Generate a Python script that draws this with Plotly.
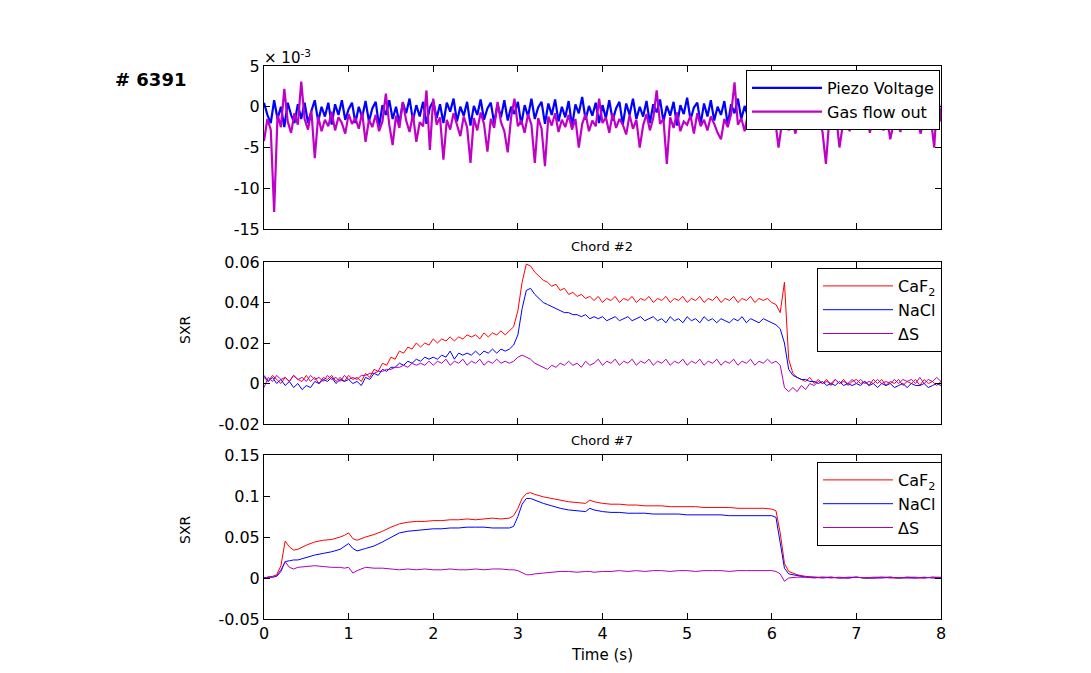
import numpy as np
import plotly.graph_objects as go

# ---------------- Top panel (x 10^-3), sampled every 0.04 s ----------------
piezo_voltage = [
    0.5, -1, -2, 0.8, -1.5, 0, -2.5, 0.5, -1, -2, 0.3, -1.5, 0.5, -2, -0.5, 0.8, -1.8, 0, -1.2, 0.5,
    -2.2, 0.3, -1, 0.8, -1.6, -0.3, 0.5, -2, 0, -1.3, 0.7, -1.8, -0.2, 0.6, -2.4, 0.2, -1, 0.8, -1.5, 0,
    -2, 0.5, -0.8, 1, -1.7, 0.2, -1.2, 0.6, -2.1, -0.1, 0.7, -1.4, 0.3, -2, 0.5, -0.6, 1, -1.8, 0, -1.1,
    0.6, -2.3, 0.1, -1, 0.9, -1.6, -0.2, 0.5, -2, 0.3, -1.3, 0.8, -1.7, 0, -0.9, 0.6, -2.2, 0.2, -1.2, 1,
    -1.5, -0.1, 0.6, -2.1, 0.4, -1, 0.9, -1.8, 0, -1.3, 0.7, -2.4, 0.3, -0.8, 1.2, -1.6, 0.1, -1.1, 0.5, -2,
    0.2, -1.4, 0.8, -1.7, -0.2, 0.6, -2.2, 0.4, -1, 1, -1.5, 0, -1.2, 0.7, -2, 0.3, -0.7, 0.9, -1.8, 0.1,
    -1.1, 0.6, -2.3, 0.2, -0.9, 1.1, -1.6, -0.1, 0.5, -2.1, 0.4, -1.2, 0.8, -1.7, 0, -1, 0.7, -2.2, 0.3, -0.8,
    1, -1.5, 0.1, -1.3, 0.6, -2, 0.4, -0.9, 0.9, -1.8, 0, -1.1, 0.7, -2.4, 0.2, -1, 1.2, -1.6, -0.2, 0.5,
    -2, 0.3, -1.2, 0.8, -1.7, 0.1, -0.8, 0.6, -2.2, 0.4, -1, 1, -1.5, 0, -1.3, 0.7, -2.1, 0.2, -0.9, 0.9,
    -1.8, 0.1, -1.1, 0.6, -2.3, 0.3, -1, 0.8, -1.6, 0, -1.2, 0.7, -2, 0.4, -0.7, 1, -1.7, 0.2, -1.4, 0.5,
    -1]
gas_flow_out = [
    -4.2, -1.5, -2.8, -12.9, -1, -2.5, 2.2, -1.8, -3.2, -0.8, -2.2, 3.1, -1.5, -2.8, -0.5, -6.3, -1.2, -3, -1.6, -2.4,
    -0.6, -2.9, -1.3, -2, -3.3, -0.9, -2.1, -1.4, -2.7, -0.7, -4.3, -1.6, -2.5, -1, -3, -1.8, 1.6, -2.2, -4.7, -1.1,
    -2.6, 0.6, -1.7, -3.1, -0.9, -4.3, -1.9, -2.4, 2, -5.3, 1, -2.2, -1.3, -6.5, -1.6, -2.8, -0.8, -2.3, -3.6, -1.2,
    -2.5, -6.9, -1.4, -2.9, -0.7, -2.1, -5.5, -1.5, -2.6, 0.6, -1.9, -3, -5.6, -1.3, 1, -2.4, -1.7, -3.2, -0.9, -2.2,
    -6.9, -1.4, -2.7, -7.3, -1.2, -2.3, -0.8, -3.1, -1.6, -2.5, -1, -2.8, -1.5, -5, -2.1, -0.9, -3, -1.7, -2.4, 1,
    -2, -1.3, -3.2, -0.8, -2.6, -1.5, -2.2, -3.4, -1, -2.7, -1.6, -5, -2.3, -0.9, -2.9, -1.4, 2, -2.1, -1.5, -7,
    -1.3, -2.6, -0.7, -3, -1.8, -2.2, -1.1, -3.3, -0.8, -2.4, -1.6, -2.9, -1.2, -2.1, -3.2, -4, -1.5, -2.5, -0.9, 3,
    -2.2, -1.4, -3, -0.8, -2.6, -1.7, -2.3, 4.5, -2.8, -1.1, -2.4, -1.6, -5, -2, -0.9, -2.9, -1.5, -3.3, -1, -2.2,
    -1.7, -2.8, -0.8, -2.5, -1.3, -3.1, -7, -1.6, -2.4, -1, -5, -2.2, -1.4, -3, -0.7, -2.6, -1.8, -2.2, -1.2, -3.2,
    -0.9, -2.5, -1.5, -2.9, -1.1, -4, -2.1, -1.6, -3.1, -0.8, -2.4, -1.3, -2.8, -1.7, -3.3, -1, -2.2, -1.5, -5, 2,
    -1.8]

# ---------------- Chord #2, sampled every 0.05 s ----------------
caf2_chord2 = [
    .003, .001, .004, .002, .000, .003, .001, .004, .002, .001,
    .004, .001, .003, .000, .003, .002, .004, .001, .003, .001,
    .004, .002, .003, .001, .005, .003, .007, .006, .010, .009,
    .013, .012, .016, .015, .018, .017, .020, .018, .020, .019,
    .022, .020, .022, .021, .023, .021, .023, .022, .024, .023,
    .024, .022, .025, .023, .025, .024, .026, .024, .026, .028,
    .036, .050, .059, .058, .055, .053, .051, .050, .048, .049,
    .046, .047, .044, .045, .043, .044, .042, .043, .041, .043,
    .040, .042, .041, .043, .040, .042, .041, .043, .040, .042,
    .041, .043, .040, .042, .041, .043, .040, .042, .041, .043,
    .040, .042, .041, .043, .040, .042, .041, .043, .040, .042,
    .041, .043, .040, .042, .041, .043, .040, .042, .041, .042,
    .040, .039, .035, .050, .012, .005, .003, .002, .001, .003,
    .000, .002, .000, .002, -.001, .002, .000, .002, -.001, .001,
    .002, .000, .001, -.001, .002, .000, .002, -.001, .001, .000,
    .002, -.001, .001, .000, .002, -.001, .002, .000, .001, -.001,
    .001]
nacl_chord2 = [
    .004, .001, .003, .000, .002, -.001, .001, -.002, .000, -.003,
    -.001, -.002, .001, .000, .002, .001, .003, .000, .002, .001,
    .002, .000, .001, -.001, .003, .002, .005, .004, .007, .006,
    .008, .008, .010, .009, .011, .010, .012, .011, .013, .012,
    .013, .012, .014, .013, .016, .012, .015, .014, .015, .014,
    .016, .014, .016, .015, .017, .015, .017, .016, .017, .019,
    .024, .037, .046, .047, .044, .042, .040, .039, .038, .037,
    .036, .035, .035, .034, .034, .033, .034, .032, .033, .032,
    .033, .031, .032, .033, .031, .032, .033, .031, .032, .033,
    .031, .032, .033, .031, .032, .030, .033, .031, .032, .030,
    .033, .031, .032, .030, .033, .031, .032, .030, .032, .031,
    .030, .032, .031, .033, .030, .032, .031, .030, .032, .031,
    .030, .029, .027, .020, .007, .004, .003, .002, .002, .001,
    .001, .000, .001, -.001, .000, -.001, .001, -.001, .000, -.001,
    .000, -.001, .001, -.001, .000, -.002, .000, -.001, .000, -.002,
    -.001, .000, -.002, .000, -.001, -.001, .000, -.002, -.001, .000,
    -.001]
ds_chord2 = [
    -.002, .003, .001, .004, .002, .003, .001, .004, .002, .003,
    .001, .004, .002, .003, .001, .004, .002, .003, .001, .004,
    .002, .003, .002, .004, .004, .005, .005, .006, .006, .007,
    .007, .008, .008, .009, .008, .010, .009, .010, .009, .011,
    .009, .011, .010, .012, .009, .011, .010, .012, .009, .011,
    .010, .012, .009, .011, .010, .012, .010, .011, .010, .011,
    .013, .014, .013, .012, .010, .009, .008, .007, .009, .008,
    .010, .009, .011, .009, .010, .008, .011, .009, .010, .012,
    .009, .011, .010, .012, .009, .011, .010, .012, .009, .011,
    .010, .012, .009, .011, .010, .012, .009, .011, .010, .012,
    .009, .011, .010, .012, .009, .011, .010, .012, .009, .011,
    .010, .012, .009, .011, .010, .012, .009, .011, .010, .012,
    .010, .011, .009, -.002, -.004, -.002, -.004, -.001, -.003, .000,
    -.001, .001, .000, .001, .000, .002, .000, .001, .000, .002,
    .000, .002, .000, .001, .000, .002, .000, .001, .000, .002,
    .000, .002, .001, .002, .000, .003, .000, .002, .001, .003,
    .001]

# ---------------- Chord #7 ----------------
t_chord7 = [0.0, 0.05, 0.1, 0.15, 0.2, 0.25, 0.3, 0.35, 0.4,
            0.5, 0.6, 0.7, 0.8, 0.9,
            0.95, 1.0, 1.05, 1.1,
            1.2, 1.3, 1.4, 1.5, 1.6, 1.7, 1.8, 1.9, 2.0, 2.1, 2.2, 2.3, 2.4, 2.5, 2.6, 2.7, 2.8, 2.9,
            2.95, 3.0, 3.05, 3.1, 3.15, 3.2,
            3.3, 3.4, 3.5, 3.6, 3.7, 3.8,
            3.85, 3.9,
            4.0, 4.1, 4.2, 4.3, 4.4, 4.5, 4.6, 4.7, 4.8, 4.9, 5.0, 5.1, 5.2, 5.3, 5.4, 5.5, 5.6, 5.7, 5.8, 5.9, 6.0,
            6.05, 6.1, 6.15, 6.2,
            6.3, 6.4, 6.5, 6.6, 6.7, 6.8, 6.9, 7.0, 7.1, 7.2, 7.3, 7.4, 7.5, 7.6, 7.7, 7.8, 7.9, 8.0]
caf2_chord7 = [0.000, 0.001, 0.002, 0.004, 0.015, 0.045, 0.038, 0.034, 0.035,
               0.040, 0.044, 0.046, 0.047, 0.050,
               0.052, 0.055, 0.048, 0.046,
               0.050, 0.053, 0.057, 0.062, 0.066, 0.068, 0.069, 0.069, 0.070, 0.070, 0.071, 0.071, 0.072, 0.071, 0.072, 0.073, 0.072, 0.073,
               0.076, 0.085, 0.097, 0.103, 0.104, 0.102,
               0.099, 0.097, 0.095, 0.093, 0.092, 0.091,
               0.095, 0.093,
               0.091, 0.090, 0.090, 0.089, 0.089, 0.088, 0.088, 0.088, 0.087, 0.087, 0.087, 0.087, 0.086, 0.086, 0.086, 0.086, 0.085, 0.085, 0.085, 0.085, 0.084,
               0.082, 0.055, 0.018, 0.008,
               0.004, 0.002, 0.001, 0.001, 0.000, 0.001, 0.000, 0.001, 0.000, 0.000, 0.001, 0.000, 0.000, 0.001, 0.000, 0.000, 0.001, 0.000]
nacl_chord7 = [0.000, 0.001, 0.001, 0.002, 0.008, 0.020, 0.021, 0.022, 0.022,
               0.025, 0.028, 0.030, 0.032, 0.035,
               0.038, 0.042, 0.036, 0.033,
               0.036, 0.039, 0.044, 0.050, 0.055, 0.057, 0.058, 0.059, 0.060, 0.060, 0.061, 0.061, 0.062, 0.062, 0.062, 0.061, 0.061, 0.061,
               0.063, 0.075, 0.090, 0.097, 0.097, 0.095,
               0.091, 0.088, 0.085, 0.083, 0.082, 0.081,
               0.085, 0.083,
               0.081, 0.080, 0.080, 0.079, 0.079, 0.079, 0.078, 0.078, 0.078, 0.078, 0.077, 0.077, 0.077, 0.077, 0.077, 0.076, 0.076, 0.076, 0.076, 0.076, 0.076,
               0.074, 0.045, 0.012, 0.005,
               0.003, 0.001, 0.001, 0.000, 0.001, 0.000, 0.000, 0.001, 0.000, 0.000, 0.000, 0.001, 0.000, 0.000, 0.000, 0.001, 0.000, 0.000]
ds_chord7 = [0.000, 0.001, 0.001, 0.003, 0.010, 0.020, 0.013, 0.011, 0.013,
             0.014, 0.015, 0.014, 0.013, 0.013,
             0.012, 0.013, 0.006, 0.009,
             0.013, 0.012, 0.012, 0.011, 0.010, 0.011, 0.010, 0.011, 0.010, 0.010, 0.011, 0.010, 0.010, 0.011, 0.010, 0.011, 0.011, 0.010,
             0.010, 0.009, 0.006, 0.004, 0.004, 0.005,
             0.006, 0.007, 0.008, 0.008, 0.007, 0.008,
             0.008, 0.007,
             0.008, 0.008, 0.009, 0.008, 0.009, 0.008, 0.009, 0.009, 0.008, 0.009, 0.009, 0.008, 0.009, 0.009, 0.009, 0.008, 0.009, 0.009, 0.009, 0.009, 0.009,
             0.008, 0.005, -0.004, 0.000,
             0.001, 0.001, 0.000, 0.001, 0.001, 0.000, 0.001, 0.001, 0.000, 0.001, 0.001, 0.001, 0.000, 0.001, 0.001, 0.000, 0.001, 0.001]

x_ticks = [0, 1, 2, 3, 4, 5, 6, 7, 8]
top_yticks = [-15, -10, -5, 0, 5]
top_ytext = ["-15", "-10", "-5", "0", "5"]
chord2_yticks = [-0.02, 0, 0.02, 0.04, 0.06]
chord2_ytext = ["-0.02", "0", "0.02", "0.04", "0.06"]
chord7_yticks = [-0.05, 0, 0.05, 0.1, 0.15]
chord7_ytext = ["-0.05", "0", "0.05", "0.1", "0.15"]

W, H = 1091, 673
OFF = 8  # page body margin
def px(x): return (x - OFF) / W
def py(y): return 1 - (y - OFF) / H

BLUE = "#0000FF"
MAG = "#C000C8"
RED = "#FF0000"
PURP = "#B000B8"
FONT = "DejaVu Sans, Liberation Sans, Arial, sans-serif"

fig = go.Figure()

fig.add_trace(go.Scatter(x=np.linspace(0, 8, len(piezo_voltage)), y=piezo_voltage, mode="lines",
                         name="Piezo Voltage", line=dict(color=BLUE, width=2.2),
                         xaxis="x3", yaxis="y3", legend="legend"))
fig.add_trace(go.Scatter(x=np.linspace(0, 8, len(gas_flow_out)), y=gas_flow_out, mode="lines",
                         name="Gas flow out", line=dict(color=MAG, width=2.2),
                         xaxis="x3", yaxis="y3", legend="legend"))

fig.add_trace(go.Scatter(x=np.linspace(0, 8, len(caf2_chord2)), y=caf2_chord2, mode="lines", name="CaF<sub>2</sub>",
                         line=dict(color=RED, width=1), xaxis="x2", yaxis="y2", legend="legend2"))
fig.add_trace(go.Scatter(x=np.linspace(0, 8, len(nacl_chord2)), y=nacl_chord2, mode="lines", name="NaCl",
                         line=dict(color=BLUE, width=1), xaxis="x2", yaxis="y2", legend="legend2"))
fig.add_trace(go.Scatter(x=np.linspace(0, 8, len(ds_chord2)), y=ds_chord2, mode="lines", name="ΔS",
                         line=dict(color=PURP, width=1), xaxis="x2", yaxis="y2", legend="legend2"))

fig.add_trace(go.Scatter(x=t_chord7, y=caf2_chord7, mode="lines", name="CaF<sub>2</sub>",
                         line=dict(color=RED, width=1), xaxis="x", yaxis="y", legend="legend3"))
fig.add_trace(go.Scatter(x=t_chord7, y=nacl_chord7, mode="lines", name="NaCl",
                         line=dict(color=BLUE, width=1), xaxis="x", yaxis="y", legend="legend3"))
fig.add_trace(go.Scatter(x=t_chord7, y=ds_chord7, mode="lines", name="ΔS",
                         line=dict(color=PURP, width=1), xaxis="x", yaxis="y", legend="legend3"))

xdom = [px(264), px(941)]
axis_common = dict(showline=True, linecolor="black", linewidth=1, mirror="ticks", ticks="inside",
                   ticklen=6, tickcolor="black", showgrid=False, zeroline=False, automargin=False,
                   tickfont=dict(family=FONT, size=16, color="black"))
leg_common = dict(xanchor="right", yanchor="top", bgcolor="white", bordercolor="black", borderwidth=1,
                  font=dict(family=FONT, size=16, color="black"), tracegroupgap=0, itemwidth=70)

fig.update_layout(
    template="none",
    autosize=False,
    width=W, height=H, paper_bgcolor="white", plot_bgcolor="white",
    margin=dict(l=0, r=0, t=0, b=0, pad=0),
    xaxis=dict(domain=xdom, range=[0, 8], tickvals=x_ticks, anchor="y", **axis_common),
    yaxis=dict(domain=[py(619), py(455)], range=[-0.05, 0.15], tickvals=chord7_yticks,
               ticktext=chord7_ytext, anchor="x", **axis_common),
    xaxis2=dict(domain=xdom, range=[0, 8], tickvals=x_ticks, showticklabels=False, anchor="y2", **axis_common),
    yaxis2=dict(domain=[py(424), py(262)], range=[-0.02, 0.06], tickvals=chord2_yticks,
                ticktext=chord2_ytext, anchor="x2", **axis_common),
    xaxis3=dict(domain=xdom, range=[0, 8], tickvals=x_ticks, showticklabels=False, anchor="y3", **axis_common),
    yaxis3=dict(domain=[py(229), py(66)], range=[-15, 5], tickvals=top_yticks, ticktext=top_ytext,
                anchor="x3", **axis_common),
    legend=dict(x=px(940), y=py(70), **leg_common),
    legend2=dict(x=px(942), y=py(268), **leg_common),
    legend3=dict(x=px(942), y=py(462), **leg_common),
    showlegend=True,
)

ann_font = dict(family=FONT, color="black")
def note(x, y, text, size, angle=0, xanchor="center"):
    fig.add_annotation(x=px(x), y=py(y), xref="paper", yref="paper", text=text, textangle=angle,
                       showarrow=False, xanchor=xanchor, yanchor="middle",
                       font=dict(size=size, **ann_font))

note(150, 80, "<b># 6391</b>", 18)
note(262, 57, "× 10<sup>-3</sup>", 15, xanchor="left")
note(602, 246, "Chord #2", 13)
note(602, 440, "Chord #7", 13)
note(602, 655, "Time (s)", 15)
note(185, 330, "SXR", 14, angle=-90)
note(185, 530, "SXR", 14, angle=-90)

fig.write_html("out.html")
